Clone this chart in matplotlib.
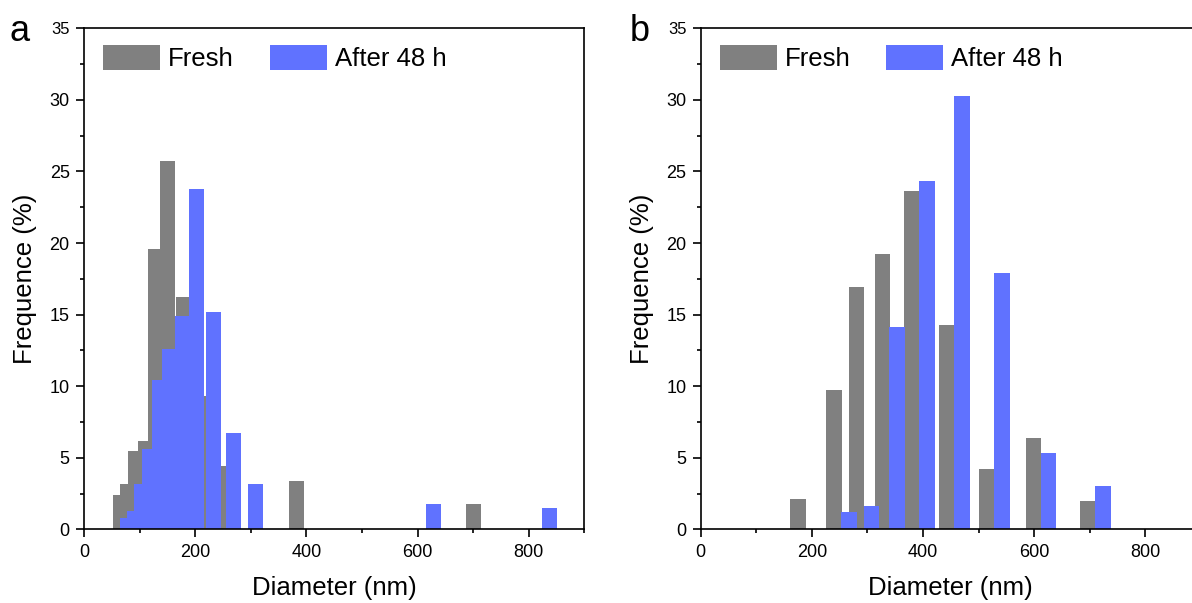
import matplotlib
matplotlib.use("Agg")
import matplotlib.pyplot as plt
from matplotlib.ticker import MultipleLocator
from matplotlib.patches import Patch

plt.rcParams['font.family'] = ['Liberation Sans', 'DejaVu Sans']

# Panel a : diametres (nm) et frequences (%)
a_fresh_d = [66, 78, 93, 110, 129, 151, 179, 206, 242, 383, 700]
a_fresh_f = [2.4, 3.2, 5.5, 6.2, 19.6, 25.7, 16.2, 9.3, 4.4, 3.4, 1.8]
a_aged_d = [79, 91, 103, 117, 135, 153, 177, 203, 233, 269, 309, 628, 837]
a_aged_f = [0.8, 1.3, 3.2, 5.6, 10.4, 12.6, 14.9, 23.8, 15.2, 6.7, 3.2, 1.8, 1.5]

# Panel b
b_fresh_d = [175, 240, 280, 327, 380, 443, 515, 599, 697]
b_fresh_f = [2.1, 9.7, 16.9, 19.2, 23.6, 14.3, 4.2, 6.4, 2.0]
b_aged_d = [267, 307, 353, 407, 470, 542, 626, 724]
b_aged_f = [1.2, 1.6, 14.1, 24.3, 30.3, 17.9, 5.3, 3.0]

series_labels = ["Fresh", "After 48 h"]
GRIS = "#808080"
BLEU = "#6072ff"


def tracer(ax, fresh_d, fresh_f, aged_d, aged_f, largeur):
    # barres dessinees une par une, les suivantes recouvrent les precedentes
    for d, f in zip(fresh_d, fresh_f):
        ax.bar(d, f, width=largeur, color=GRIS, linewidth=0)
    for d, f in zip(aged_d, aged_f):
        ax.bar(d, f, width=largeur, color=BLEU, linewidth=0)

    ax.set_xlim(0, 900)
    ax.set_ylim(0, 35)
    ax.xaxis.set_major_locator(MultipleLocator(200))
    ax.xaxis.set_minor_locator(MultipleLocator(100))
    ax.yaxis.set_major_locator(MultipleLocator(5))
    ax.yaxis.set_minor_locator(MultipleLocator(2.5))
    ax.tick_params(which='major', direction='out', length=5.8, width=1.2, labelsize=13, pad=4.5)
    ax.tick_params(which='minor', direction='out', length=3.2, width=1.2)
    for s in ax.spines.values():
        s.set_linewidth(1.2)
    ax.set_xlabel("Diameter (nm)", fontsize=18.5, labelpad=11)
    ax.set_ylabel("Frequence (%)", fontsize=18.5, labelpad=9)

    handles = [Patch(color=GRIS, linewidth=0), Patch(color=BLEU, linewidth=0)]
    ax.legend(handles, series_labels, loc='upper left', bbox_to_anchor=(0.0386, 0.966),
              ncol=2, frameon=False, fontsize=18.5, handlelength=2.22, handleheight=1.09,
              handletextpad=0.3, columnspacing=1.4, borderpad=0, borderaxespad=0)


fig = plt.figure(figsize=(11.92, 6.03), dpi=100)
ax1 = fig.add_axes([0.0705, 0.1222, 0.4198, 0.8309])
ax2 = fig.add_axes([0.5878, 0.1222, 0.4198, 0.8309])

tracer(ax1, a_fresh_d, a_fresh_f, a_aged_d, a_aged_f, 27)
tracer(ax2, b_fresh_d, b_fresh_f, b_aged_d, b_aged_f, 28)

fig.text(0.008, 0.948, "a", fontsize=26, va='center')
fig.text(0.528, 0.948, "b", fontsize=26, va='center')

# le "35" du haut est ecrit un peu plus petit dans l'original
fig.canvas.draw()
for ax in (ax1, ax2):
    for lbl in ax.get_yticklabels():
        if lbl.get_text() == "35":
            lbl.set_fontsize(12)

fig.savefig("out.png", dpi=100)
